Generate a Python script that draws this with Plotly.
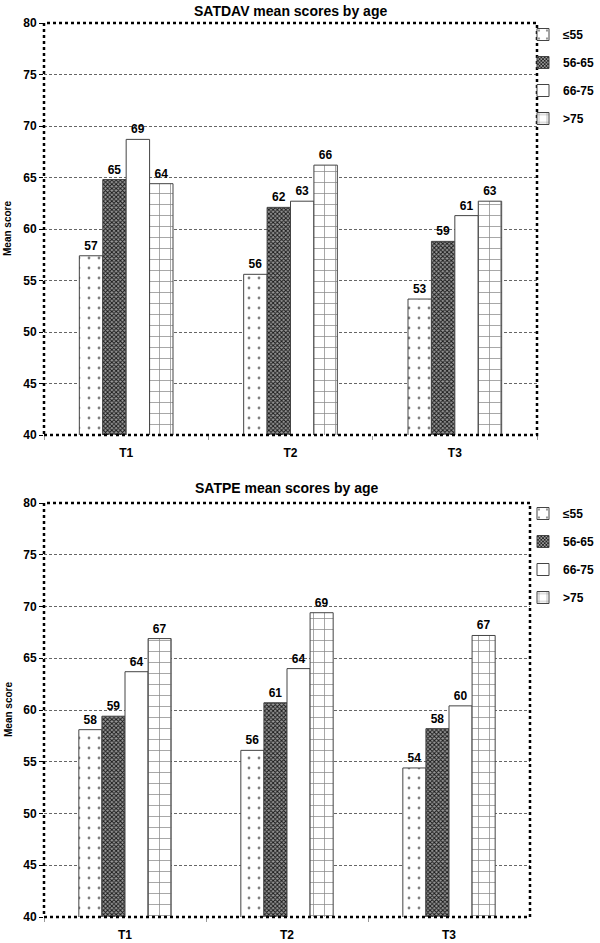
import plotly.graph_objects as go

categories = ["T1", "T2", "T3"]
age_groups = ["≤55", "56-65", "66-75", ">75"]

satdav_le55 = [57.4, 55.6, 53.2]
satdav_56_65 = [64.8, 62.1, 58.8]
satdav_66_75 = [68.7, 62.7, 61.3]
satdav_gt75 = [64.4, 66.2, 62.7]

satpe_le55 = [58.1, 56.1, 54.4]
satpe_56_65 = [59.4, 60.7, 58.2]
satpe_66_75 = [63.7, 64.0, 60.4]
satpe_gt75 = [66.9, 69.4, 67.2]

y_ticks = [40, 45, 50, 55, 60, 65, 70, 75, 80]

W, H = 600, 943
FONT = "Liberation Sans, Arial, sans-serif"

def px(X): return X / W
def py(Y): return 1 - Y / H

patterns = [
    dict(shape=".", size=10, solidity=0.06, fgcolor="black", bgcolor="white", fillmode="overlay"),
    dict(shape="x", size=3, solidity=0.55, fgcolor="#1a1a1a", bgcolor="#9a9a9a", fillmode="replace"),
    dict(shape="", fgcolor="black", bgcolor="white"),
    dict(shape="+", size=11, solidity=0.13, fgcolor="#111", bgcolor="white", fillmode="overlay"),
]

fig = go.Figure()

def add_chart(series, xa, ya, legend):
    for name, vals, pat in zip(age_groups, series, patterns):
        fig.add_trace(go.Bar(
            x=categories, y=vals, name="<b>" + name + "</b>",
            xaxis=xa, yaxis=ya, legend=legend, legendgroup=legend + name,
            marker=dict(color="white", pattern=pat, line=dict(color="#444", width=1)),
            text=["<b>" + str(round(v)) + "</b>" for v in vals], textposition="outside",
            textfont=dict(family=FONT, size=12, color="black"),
            cliponaxis=False,
        ))

add_chart([satdav_le55, satdav_56_65, satdav_66_75, satdav_gt75], "x", "y", "legend")
add_chart([satpe_le55, satpe_56_65, satpe_66_75, satpe_gt75], "x2", "y2", "legend2")

top = dict(x0=44, x1=537, y0=23, y1=435)
bot = dict(x0=44, x1=530, y0=503, y1=917)

axis_common_y = dict(range=[40, 80], tickvals=y_ticks, ticktext=["<b>%d</b>" % t for t in y_ticks],
                     showgrid=True, gridcolor="#666", automargin=False,
                     griddash="3px,2px", gridwidth=0.6, ticks="outside", ticklen=4, tickcolor="black",
                     tickfont=dict(family=FONT, size=12, color="black"), showline=False, zeroline=False)
axis_common_x = dict(tickvals=categories, ticktext=["<b>%s</b>" % c for c in categories], automargin=False,
                     tickfont=dict(family=FONT, size=12, color="black"), showline=False, showgrid=False,
                     ticks="outside", tickson="boundaries", ticklen=4, tickcolor="#999", zeroline=False,
                     ticklabelstandoff=9)

legend_common = dict(xanchor="left", yanchor="top", tracegroupgap=9, itemwidth=30,
                     font=dict(family=FONT, size=12, color="black"), bgcolor="rgba(0,0,0,0)")

fig.update_layout(
    width=W, height=H, margin=dict(l=0, r=0, t=0, b=0, pad=0, autoexpand=False),
    paper_bgcolor="white", plot_bgcolor="white",
    barmode="group", bargap=0.43, bargroupgap=0,
    font=dict(family=FONT, color="black"),
    xaxis=dict(domain=[px(top["x0"]), px(top["x1"])], anchor="y", **axis_common_x),
    yaxis=dict(domain=[py(top["y1"]), py(top["y0"])], anchor="x", **axis_common_y),
    xaxis2=dict(domain=[px(bot["x0"]), px(bot["x1"])], anchor="y2", **axis_common_x),
    yaxis2=dict(domain=[py(bot["y1"]), py(bot["y0"])], anchor="x2", **axis_common_y),
    legend=dict(x=px(523), y=py(20), **legend_common),
    legend2=dict(x=px(523), y=py(499), **legend_common),
    showlegend=True,
)

# Titles
fig.add_annotation(text="<b>SATDAV mean scores by age</b>", x=px(290), y=py(11), xref="paper", yref="paper",
                   showarrow=False, font=dict(family=FONT, size=14, color="black"),
                   xanchor="center", yanchor="middle")
fig.add_annotation(text="<b>SATPE mean scores by age</b>", x=px(287), y=py(488), xref="paper", yref="paper",
                   showarrow=False, font=dict(family=FONT, size=14, color="black"),
                   xanchor="center", yanchor="middle")

# Y axis titles
for b in (top, bot):
    fig.add_annotation(text="<b>Mean score</b>", textangle=-90, x=px(8), y=py((b["y0"] + b["y1"]) / 2),
                       xref="paper", yref="paper", showarrow=False, xanchor="center", yanchor="middle",
                       font=dict(family=FONT, size=10, color="black"))

# Dotted frames
for b in (top, bot):
    fig.add_shape(type="rect", xref="paper", yref="paper",
                  x0=px(b["x0"]), x1=px(b["x1"]), y0=py(b["y1"]), y1=py(b["y0"]),
                  line=dict(color="black", width=2.5, dash="dot"), layer="above")

# remove the default page margin so the 600x943 figure fills the window exactly
fig.write_html("out.html", config={"displayModeBar": False},
               post_script="document.body.style.margin='0';")
